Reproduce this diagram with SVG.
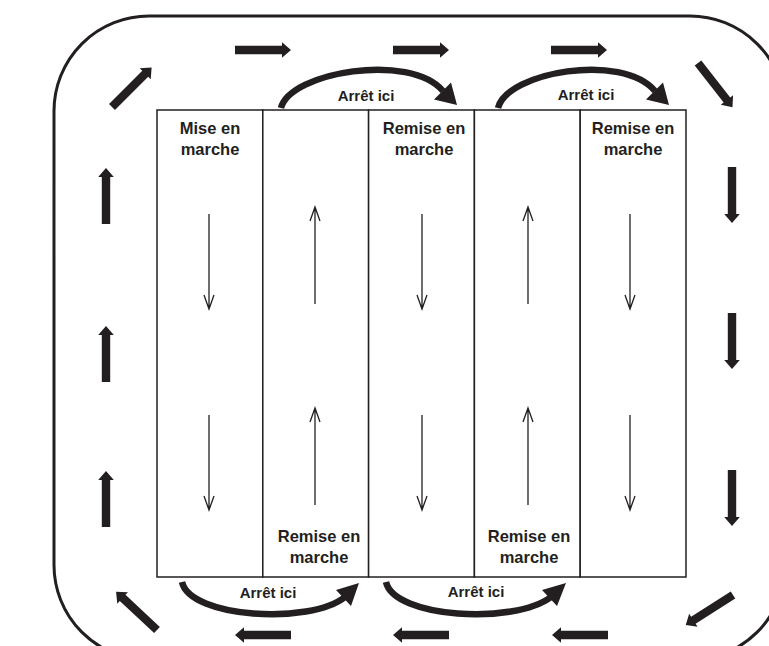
<svg xmlns="http://www.w3.org/2000/svg" xmlns:xlink="http://www.w3.org/1999/xlink" width="769" height="646" viewBox="0 0 769 646">
<style>
.lbl{font-family:"Liberation Sans",Arial,sans-serif;font-weight:bold;font-size:16.5px;fill:#231f20;text-anchor:middle}
.stop{font-family:"Liberation Sans",Arial,sans-serif;font-weight:bold;font-size:15px;fill:#231f20;text-anchor:middle}
.col{fill:#fff;stroke:#231f20;stroke-width:1.5}
.thin{stroke:#231f20;stroke-width:1.3;fill:none}
.curve{stroke:#231f20;stroke-width:6.5;fill:none}
.head{fill:#231f20}
.outer{fill:none;stroke:#231f20;stroke-width:3}
</style>
<defs>
<path id="ta" d="M0,-4.2 H47 V-7.8 L56,0 L47,7.8 V4.2 H0 Z" fill="#231f20"/>
<path id="down" d="M0,-95 V0 M-5,-14 L0,0 L5,-14" class="thin"/>
<path id="up" d="M0,97 V0 M-5,14 L0,0 L5,14" class="thin"/>
</defs>
<rect width="769" height="646" fill="#fff"/>
<g id="outer-loop">
<path class="outer" d="M54,111 A95,95 0 0 1 149,16 H690 A95,95 0 0 1 785,111 V565 A95,95 0 0 1 690,660 H149 A95,95 0 0 1 54,565 Z"/>
</g>
<g id="col1">
<rect class="col" x="157" y="110" width="105.8" height="467"/>
<text class="lbl" x="210" y="134">Mise en</text>
<text class="lbl" x="210" y="155">marche</text>
</g>
<g id="col2">
<rect class="col" x="262.8" y="110" width="105.8" height="467"/>
<text class="lbl" x="319" y="542">Remise en</text>
<text class="lbl" x="319" y="563">marche</text>
</g>
<g id="col3">
<rect class="col" x="368.6" y="110" width="105.8" height="467"/>
<text class="lbl" x="424" y="134">Remise en</text>
<text class="lbl" x="424" y="155">marche</text>
</g>
<g id="col4">
<rect class="col" x="474.4" y="110" width="105.8" height="467"/>
<text class="lbl" x="529" y="542">Remise en</text>
<text class="lbl" x="529" y="563">marche</text>
</g>
<g id="col5">
<rect class="col" x="580.2" y="110" width="105.8" height="467"/>
<text class="lbl" x="633" y="134">Remise en</text>
<text class="lbl" x="633" y="155">marche</text>
</g>
<g id="connectors">
<g id="flow-arrows">
<use xlink:href="#down" transform="translate(209,309)"/>
<use xlink:href="#down" transform="translate(209,510)"/>
<use xlink:href="#up" transform="translate(315,207)"/>
<use xlink:href="#up" transform="translate(315,408)"/>
<use xlink:href="#down" transform="translate(422,309)"/>
<use xlink:href="#down" transform="translate(422,510)"/>
<use xlink:href="#up" transform="translate(528,207)"/>
<use xlink:href="#up" transform="translate(528,408)"/>
<use xlink:href="#down" transform="translate(630,309)"/>
<use xlink:href="#down" transform="translate(630,510)"/>
</g>
<g id="loop-arrows">
<use xlink:href="#ta" transform="translate(235,50)"/>
<use xlink:href="#ta" transform="translate(393,50)"/>
<use xlink:href="#ta" transform="translate(551,50)"/>
<use xlink:href="#ta" transform="translate(291,635) rotate(180)"/>
<use xlink:href="#ta" transform="translate(449,635) rotate(180)"/>
<use xlink:href="#ta" transform="translate(608,635) rotate(180)"/>
<use xlink:href="#ta" transform="translate(106,224) rotate(-90)"/>
<use xlink:href="#ta" transform="translate(106,382) rotate(-90)"/>
<use xlink:href="#ta" transform="translate(106,527) rotate(-90)"/>
<use xlink:href="#ta" transform="translate(732,167) rotate(90)"/>
<use xlink:href="#ta" transform="translate(732,313) rotate(90)"/>
<use xlink:href="#ta" transform="translate(732,470) rotate(90)"/>
<use xlink:href="#ta" transform="translate(112,107) rotate(-45)"/>
<use xlink:href="#ta" transform="translate(698,63) rotate(52)"/>
<use xlink:href="#ta" transform="translate(157,630) rotate(-137)"/>
<use xlink:href="#ta" transform="translate(733,595) rotate(147.5)"/>
</g>
<g id="stop-top1">
<path class="curve" d="M281,108 C290,72 410,52 443,91"/>
<polygon class="head" points="457,105 434,99.5 451,82.5"/>
<text class="stop" x="366" y="101">Arrêt ici</text>
</g>
<g id="stop-top2">
<path class="curve" d="M498,108 C507,72 622,52 655,91"/>
<polygon class="head" points="669,105 646,99.5 663,82.5"/>
<text class="stop" x="586" y="100">Arrêt ici</text>
</g>
<g id="stop-bottom1">
<path class="curve" d="M182,582 C190,618 310,625 345,597"/>
<polygon class="head" points="359,583 336,590 351,606"/>
<text class="stop" x="268" y="598">Arrêt ici</text>
</g>
<g id="stop-bottom2">
<path class="curve" d="M386,582 C394,618 514,625 551,597"/>
<polygon class="head" points="566,583 542,590 557,606"/>
<text class="stop" x="476" y="597">Arrêt ici</text>
</g>
</g>
</svg>
